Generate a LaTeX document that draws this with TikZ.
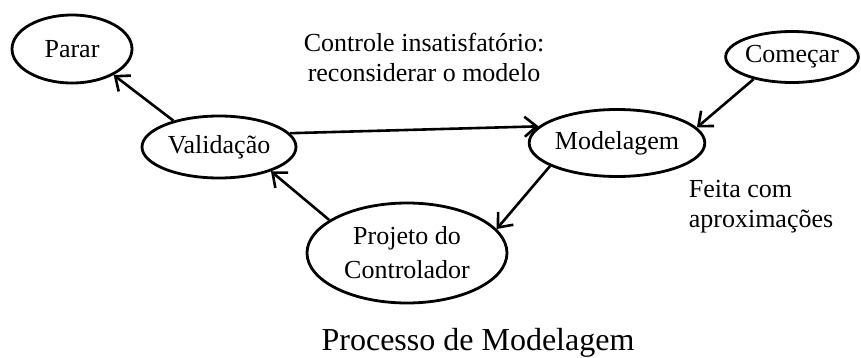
\documentclass[tikz,border=0pt]{standalone}
\usepackage{fontspec}
\setmainfont{Liberation Serif}
\usepackage{tikz}
\usetikzlibrary{shapes.geometric,arrows.meta}

\begin{document}
\begin{tikzpicture}[x=0.5pt,y=-0.5pt,
  estado/.style={draw,ellipse,line width=1.4pt,inner sep=0pt,align=center,
    font=\fontsize{13}{17}\selectfont},
  seta/.style={-{Straight Barb[length=6pt,width=10pt]},line width=1.3pt},
  texto/.style={font=\fontsize{13}{15}\selectfont}]
\useasboundingbox (0,0) rectangle (861,358);
% estados
\node[estado,minimum width=60pt,minimum height=34pt] (parar) at (72,49) {Parar};
\node[estado,minimum width=77pt,minimum height=31pt] (valid) at (219,147) {Validação};
\node[estado,minimum width=66pt,minimum height=25.5pt] (comecar) at (792,57) {Começar};
\node[estado,minimum width=78.5pt,minimum height=33.5pt] (model) at (617,143) {Modelagem};
\node[estado,minimum width=100pt,minimum height=50pt] (projeto) at (407,253) {Projeto do\\Controlador};
% textos
\node[texto,align=center] (obs1) at (424,57) {Controle insatisfatório:\\reconsiderar o modelo};
\node[texto,align=left] (obs2) at (761,207) {Feita com\\aproximações};
\node[font=\fontsize{16}{19}\selectfont] (titulo) at (478,343) {Processo de Modelagem};
% setas
\draw[seta] (valid.150) -- (parar.328);
\draw[seta] (valid.11) -- (model.168);
\draw[seta] (comecar.210) -- (model.11);
\draw[seta] (model.199) -- (projeto.15);
\draw[seta] (projeto.157) -- (valid.335);
\end{tikzpicture}
\end{document}
